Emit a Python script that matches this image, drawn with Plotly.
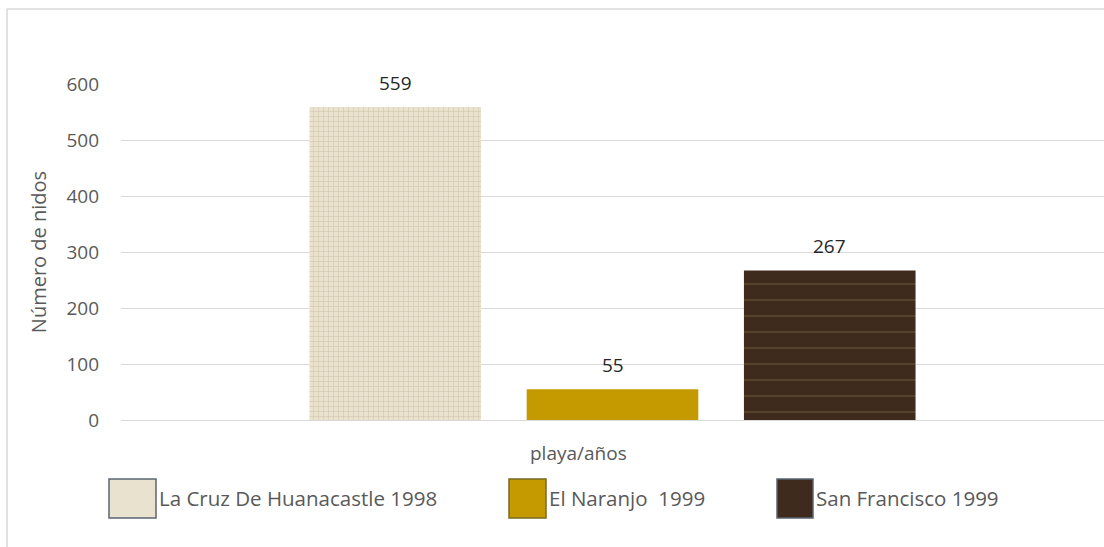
import plotly.graph_objects as go

series_names = ["La Cruz De Huanacastle 1998", "El Naranjo  1999", "San Francisco 1999"]
values = [559, 55, 267]
y_ticks = [0, 100, 200, 300, 400, 500, 600]

bg_colors = ["#e9e2cf", "#c59a00", "#3e2b1d"]
fg_colors = ["#d2c7ad", "#c59a00", "#5c4631"]
patterns = [dict(shape="+", size=5, solidity=0.22),
            dict(shape=""),
            dict(shape="-", size=16, solidity=0.1)]

L, R, T, B = 121, 0, 84, 127
W, H = 1104, 547
pw = W - L - R
ph = H - T - B

def px(x):
    return (x - L) / pw

def py(y):
    return (H - B - y) / ph

bargap = 0.337
bargroupgap = 0.21
FONT = "Open Sans"
FS = 19
fig = go.Figure()
for i, (name, v) in enumerate(zip(series_names, values)):
    pat = dict(patterns[i])
    if pat.get("shape"):
        pat.update(bgcolor=bg_colors[i], fgcolor=fg_colors[i], fillmode="replace")
    fig.add_trace(go.Bar(
        x=[0], y=[v], name=name,
        marker=dict(color=bg_colors[i], line=dict(width=0), pattern=pat),
        showlegend=False,
    ))

slot = (1 - bargap) / len(values)
annotations = []
for i, v in enumerate(values):
    xc = -(1 - bargap) / 2 + slot * (i + 0.5)
    annotations.append(dict(x=xc, y=v, xref="x", yref="y", text=str(v),
                            showarrow=False, yshift=24, yanchor="middle",
                            font=dict(family=FONT, size=FS, color="#262626")))

# axis title
annotations.append(dict(x=px(578), y=py(453), xref="paper", yref="paper",
                        text="playa/años", showarrow=False, yanchor="middle",
                        xanchor="center",
                        font=dict(family=FONT, size=FS, color="#595959")))

# custom legend
leg_boxes = [(109, 156), (509, 546), (777, 813)]
shapes = []
for i, name in enumerate(series_names):
    x0, x1 = leg_boxes[i]
    shapes.append(dict(type="rect", xref="paper", yref="paper",
                       x0=px(x0), x1=px(x1), y0=py(518), y1=py(479),
                       fillcolor=bg_colors[i],
                       line=dict(color="#5a6470" if i != 1 else "#7a6a20", width=1.5)))
    annotations.append(dict(x=px(x1 + 1), y=py(498), xref="paper", yref="paper",
                            text=name, showarrow=False, xanchor="left",
                            yanchor="middle",
                            font=dict(family=FONT, size=20.5, color="#595959")))

# outer frame lines
shapes.append(dict(type="line", xref="paper", yref="paper",
                   x0=px(7), x1=px(W), y0=py(9), y1=py(9),
                   line=dict(color="#d9d9d9", width=1.5)))
shapes.append(dict(type="line", xref="paper", yref="paper",
                   x0=px(7), x1=px(7), y0=py(9), y1=py(H),
                   line=dict(color="#d9d9d9", width=1.5)))

fig.update_layout(
    width=W, height=H,
    margin=dict(l=L, r=R, t=T, b=B),
    paper_bgcolor="white", plot_bgcolor="white",
    barmode="group", bargap=bargap, bargroupgap=bargroupgap,
    showlegend=False,
    annotations=annotations, shapes=shapes,
    xaxis=dict(range=[-0.5, 0.5], showticklabels=False, showgrid=False,
               zeroline=False, showline=False, fixedrange=True),
    yaxis=dict(range=[0, 600], tickvals=y_ticks, showgrid=True,
               gridcolor="#d9d9d9", gridwidth=1, zeroline=True,
               zerolinecolor="#d9d9d9", zerolinewidth=1, showline=False,
               ticks="", ticklabelstandoff=21,
               tickfont=dict(family=FONT, size=FS, color="#595959"),
               title=dict(text="Número de nidos", standoff=14,
                          font=dict(family=FONT, size=20, color="#595959"))),
)

fig.write_html("out.html")
